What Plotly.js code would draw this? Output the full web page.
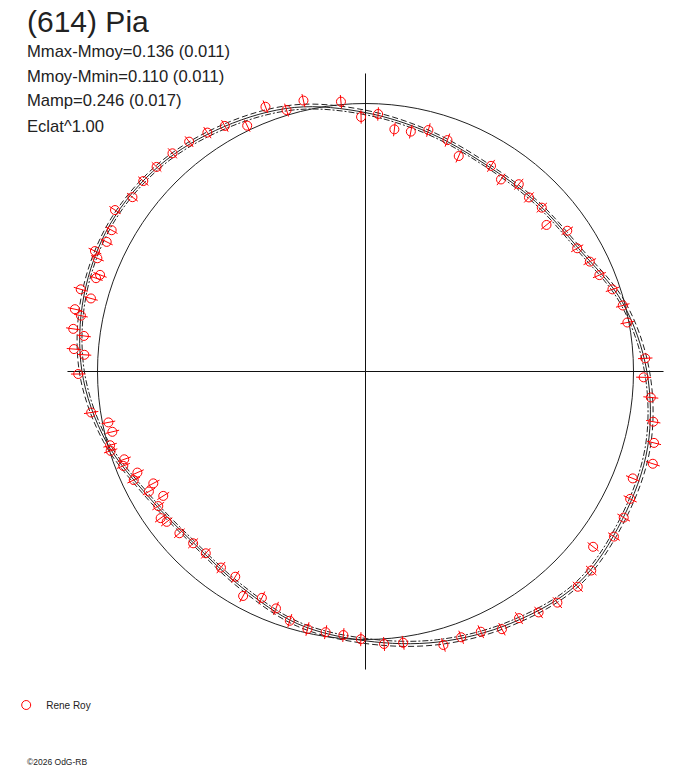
<!DOCTYPE html>
<html><head><meta charset="utf-8">
<script src="https://cdn.plot.ly/plotly-3.0.1.min.js"></script>
<style>html,body{margin:0;padding:0;background:#fff}#chart{width:688px;height:768px}</style>
</head><body><div id="chart"></div>
<script>
const titleText = "(614) Pia";
const statLines = ["Mmax-Mmoy=0.136 (0.011)", "Mmoy-Mmin=0.110 (0.011)", "Mamp=0.246 (0.017)", "Eclat^1.00"];
const observer = "Rene Roy";
const credit = "\u00a92026 OdG-RB";

// observations: phase angle (deg) and normalised radius
const phaseDeg = [2.7,10.6,14.4,18.4,22.4,26.1,30.2,34.9,39.0,42.9,46.8,50.7,54.8,58.6,66.6,70.5,75.4,79.3,83.2,87.2,
  91.0,95.2,102.9,106.8,110.7,115.7,119.8,123.5,127.5,131.5,135.6,139.4,143.2,147.2,150.9,153.4,156.0,157.1,160.0,160.9,
  163.9,165.1,167.9,168.9,171.7,172.8,175.6,176.6,180.5,188.5,191.2,193.4,196.1,197.3,200.0,201.3,203.9,205.1,207.8,209.0,
  211.6,213.0,215.6,217.1,221.0,224.9,228.7,233.6,237.6,241.4,245.4,249.3,253.1,257.3,261.3,265.2,269.0,273.9,277.9,285.9,
  289.8,293.9,297.9,301.9,305.7,309.7,314.6,318.6,322.4,326.4,330.5,334.3,338.2,342.2,346.1,350.1,354.8,358.8];
const radius = [1.045,0.994,0.991,0.971,0.944,0.932,0.914,0.918,0.869,0.898,0.891,0.903,0.877,0.899,0.876,0.916,0.931,0.911,0.910,0.962,
  0.950,1.011,1.037,1.019,1.056,1.018,1.056,1.069,1.081,1.087,1.091,1.092,1.086,1.112,1.084,1.080,1.105,1.086,1.054,1.064,
  1.106,1.060,1.109,1.082,1.102,1.059,1.091,1.051,1.072,1.035,0.978,0.971,0.992,0.996,0.958,0.970,0.931,0.955,0.895,0.924,
  0.886,0.922,0.940,0.930,0.920,0.908,0.903,0.909,0.907,0.954,0.929,0.945,0.972,0.985,0.984,0.987,0.999,1.019,1.022,1.061,
  1.054,1.062,1.088,1.084,1.107,1.121,1.128,1.123,1.072,1.113,1.107,1.096,1.074,1.126,1.109,1.090,1.069,1.038];
const radiusErr = [0.027,0.026,0.026,0.026,0.026,0.026,0.026,0.026,0.026,0.026,0.026,0.026,0.026,0.026,0.026,0.026,0.026,0.026,0.026,0.025,
  0.025,0.025,0.025,0.025,0.025,0.025,0.025,0.025,0.025,0.025,0.025,0.025,0.025,0.025,0.025,0.025,0.026,0.026,0.026,0.026,
  0.027,0.026,0.027,0.026,0.027,0.026,0.027,0.026,0.027,0.027,0.026,0.026,0.026,0.026,0.026,0.026,0.026,0.026,0.026,0.026,
  0.026,0.026,0.026,0.026,0.026,0.026,0.026,0.026,0.026,0.026,0.026,0.026,0.026,0.026,0.026,0.026,0.026,0.026,0.026,0.026,
  0.026,0.026,0.026,0.026,0.026,0.026,0.026,0.026,0.026,0.026,0.027,0.027,0.027,0.027,0.027,0.027,0.028,0.028];

// fitted curve and its envelopes
const fitTheta = [0,15,30,45,60,75,90,105,120,135,150,165,180,195,210,225,240,255,270,285,300,315,330,345];
const fitR  = [1.050,0.993,0.918,0.897,0.893,0.922,0.966,1.020,1.055,1.087,1.100,1.088,1.058,1.003,0.935,0.906,0.928,0.975,1.005,1.045,1.085,1.120,1.106,1.090];
const fitHi = [1.060,1.003,0.926,0.904,0.901,0.930,0.975,1.030,1.064,1.095,1.108,1.097,1.068,1.012,0.943,0.913,0.936,0.984,1.015,1.055,1.094,1.129,1.116,1.100];
const fitLo = [1.041,0.984,0.910,0.889,0.886,0.914,0.958,1.011,1.046,1.079,1.092,1.080,1.049,0.995,0.927,0.899,0.920,0.967,0.996,1.036,1.076,1.111,1.097,1.081];

// axis cross reach (in radius units)
const axisReach = 1.112;

const closeT = a => a.concat([a[0] + 360]);
const closeR = a => a.concat([a[0]]);

const errT = [], errRv = [];
phaseDeg.forEach((t, i) => {
  errT.push(t, t, null);
  errRv.push(radius[i] - radiusErr[i], radius[i] + radiusErr[i], null);
});

const ink = '#222222';
const traces = [
  {type:'scatterpolar', mode:'lines', theta:[0,0,180,null,90,90,270], r:[axisReach,0,axisReach,null,axisReach,0,axisReach],
   line:{color:'#111111', width:1}, showlegend:false, hoverinfo:'skip', connectgaps:false},
  {type:'scatterpolar', mode:'lines', theta:closeT(fitTheta), r:closeR(fitHi), line:{color:ink, width:1, dash:'6px,3px', shape:'spline'}, showlegend:false, hoverinfo:'skip'},
  {type:'scatterpolar', mode:'lines', theta:closeT(fitTheta), r:closeR(fitLo), line:{color:ink, width:1, dash:'6px,2px,2px,2px', shape:'spline'}, showlegend:false, hoverinfo:'skip'},
  {type:'scatterpolar', mode:'lines', theta:closeT(fitTheta), r:closeR(fitR), line:{color:ink, width:1, shape:'spline'}, showlegend:false, hoverinfo:'skip'},
  {type:'scatterpolar', mode:'lines', theta:errT, r:errRv, line:{color:'#ff0000', width:1}, showlegend:false, hoverinfo:'skip', connectgaps:false},
  {type:'scatterpolar', mode:'markers', theta:phaseDeg, r:radius, name:observer,
   marker:{symbol:'circle-open', size:9, color:'#ff0000', line:{width:1, color:'#ff0000'}}}
];

const font = 'Liberation Sans, Arial, sans-serif';
const annotations = [
  {text:titleText, x:25/688, y:1-21/768, xref:'paper', yref:'paper', xanchor:'left', yanchor:'middle', showarrow:false, font:{family:font, size:30, color:ink}}
];
statLines.forEach((s, i) => annotations.push({text:s, x:25/688, y:1-(51+25*i)/768, xref:'paper', yref:'paper', xanchor:'left', yanchor:'middle', showarrow:false, font:{family:font, size:16.6, color:ink}}));
annotations.push({text:credit, x:25/688, y:1-762/768, xref:'paper', yref:'paper', xanchor:'left', yanchor:'middle', showarrow:false, font:{family:font, size:8.5, color:ink}});

const layout = {
  width:688, height:768, margin:{l:0, r:0, t:0, b:0},
  paper_bgcolor:'#ffffff', plot_bgcolor:'#ffffff',
  showlegend:true,
  legend:{x:0.009, y:1-705/768, xanchor:'left', yanchor:'middle', font:{family:font, size:10, color:ink}, bgcolor:'rgba(0,0,0,0)', itemwidth:30},
  polar:{
    domain:{x:[43.9/688, 687.1/688], y:[74.9/768, 718.1/768]},
    bgcolor:'rgba(0,0,0,0)',
    radialaxis:{range:[0,1.2], tickvals:[1], showticklabels:false, ticks:'', showline:false, showgrid:true, gridcolor:ink, gridwidth:1},
    angularaxis:{showticklabels:false, ticks:'', showline:false, showgrid:false, rotation:0, direction:'counterclockwise'}
  },
  annotations:annotations
};
Plotly.newPlot('chart', traces, layout, {staticPlot:true, displayModeBar:false});
</script></body></html>
